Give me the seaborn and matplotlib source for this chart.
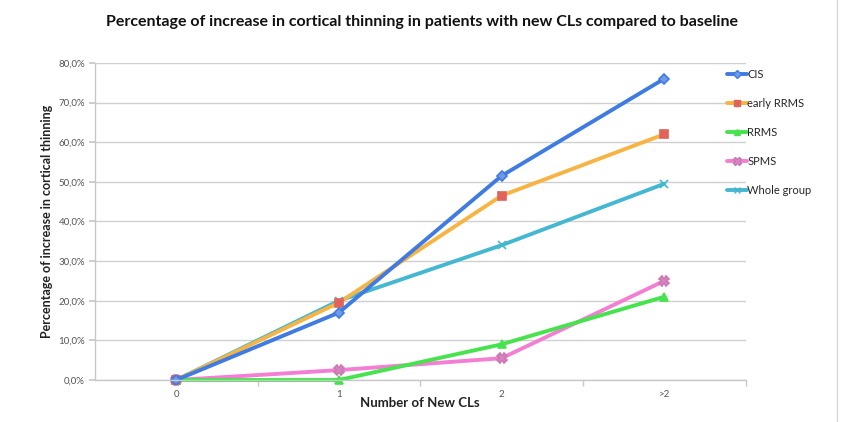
import matplotlib
matplotlib.use("Agg")
import matplotlib.pyplot as plt
import seaborn as sns
import pandas as pd
from matplotlib.lines import Line2D
from matplotlib.ticker import FuncFormatter

categories = ["0", "1", "2", ">2"]
cis = [0.0, 0.17, 0.515, 0.76]
early_rrms = [0.0, 0.195, 0.465, 0.62]
rrms = [0.0, 0.0, 0.09, 0.21]
spms = [0.0, 0.025, 0.055, 0.25]
whole_group = [0.0, 0.20, 0.34, 0.495]
series_names = ["CIS", "early RRMS", "RRMS", "SPMS", "Whole group"]

sns.set_theme(style="white")
plt.rcParams["font.family"] = ["Lato", "DejaVu Sans"]

rows = []
for name, vals in zip(series_names, [cis, early_rrms, rrms, spms, whole_group]):
    for c, v in zip(categories, vals):
        rows.append({"cat": c, "value": v, "series": name})
df = pd.DataFrame(rows)

styles = {
    "CIS": dict(color="#3f7be0", marker="D", mfc="#6f9ae8", mec="#3f7be0", ms=5),
    "early RRMS": dict(color="#f6b444", marker="s", mfc="#e0645a", mec="#e0645a", ms=6),
    "RRMS": dict(color="#47e34f", marker="^", mfc="#47e34f", mec="#47e34f", ms=6),
    "SPMS": dict(color="#f47ed4", marker="X", mfc="#d985c0", mec="#c978b4", ms=7),
    "Whole group": dict(color="#45b7d0", marker="x", mfc="#45b7d0", mec="#45b7d0", ms=6),
}

fig = plt.figure(figsize=(8.62, 4.22), dpi=100)
ax = fig.add_axes([0.110, 0.0995, 0.755, 0.7515])

order = ["Whole group", "SPMS", "RRMS", "early RRMS", "CIS"]
for name in order:
    st = styles[name]
    sub = df[df["series"] == name]
    sns.lineplot(data=sub, x="cat", y="value", ax=ax, color=st["color"], linewidth=2.8,
                 marker=st["marker"], markersize=st["ms"], markerfacecolor=st["mfc"],
                 markeredgecolor=st["mec"], markeredgewidth=1.2, legend=False, sort=False,
                 clip_on=False)

ax.set_xlim(-0.5, 3.5)
ax.set_ylim(0, 0.8)
ax.set_yticks([i / 10 for i in range(9)])
ax.yaxis.set_major_formatter(FuncFormatter(lambda v, p: f"{v*100:.1f}%".replace(".", ",")))
ax.set_xticks(range(len(categories)))
ax.set_xticklabels(categories)
ax.set_xticks([0.5, 1.5, 2.5, 3.5], minor=True)

ax.grid(axis="y", color="#d0d0d0", linewidth=1.0)
ax.set_axisbelow(True)
for s in ["top", "right"]:
    ax.spines[s].set_visible(False)
for s in ["left", "bottom"]:
    ax.spines[s].set_color("#c8c8c8")
    ax.spines[s].set_linewidth(1.0)

ax.tick_params(axis="y", which="major", length=4, color="#c8c8c8", labelsize=7,
               labelcolor="#555555", left=True, pad=3)
ax.tick_params(axis="x", which="major", length=0, labelsize=7, labelcolor="#555555", pad=7)
ax.tick_params(axis="x", which="minor", length=4, color="#c8c8c8", bottom=True)

ax.set_xlabel("Number of New CLs", fontsize=9.5, fontweight="bold", color="#222222", labelpad=-1)
ax.set_ylabel("Percentage of increase in cortical thinning", fontsize=9, fontweight="bold",
              color="#222222", labelpad=4)

fig.suptitle("Percentage of increase in cortical thinning in patients with new CLs compared to baseline",
             x=0.49, y=0.965, fontsize=11.5, fontweight="bold", color="#111111")

handles = []
for name in series_names:
    st = styles[name]
    handles.append(Line2D([0], [0], color=st["color"], linewidth=2.8, marker=st["marker"],
                          markersize=st["ms"] - 1, markerfacecolor=st["mfc"], markeredgecolor=st["mec"]))
leg = fig.legend(handles, series_names, loc="upper left", bbox_to_anchor=(0.838, 0.848),
                 frameon=False, fontsize=8, handlelength=1.8, handletextpad=0.05,
                 labelspacing=1.62, borderaxespad=0)

fig.add_artist(Line2D([837 / 862, 837 / 862], [0.0, 1.0], transform=fig.transFigure,
                      color="#d8d8d8", linewidth=1.0))

fig.savefig("out.png", dpi=100)
